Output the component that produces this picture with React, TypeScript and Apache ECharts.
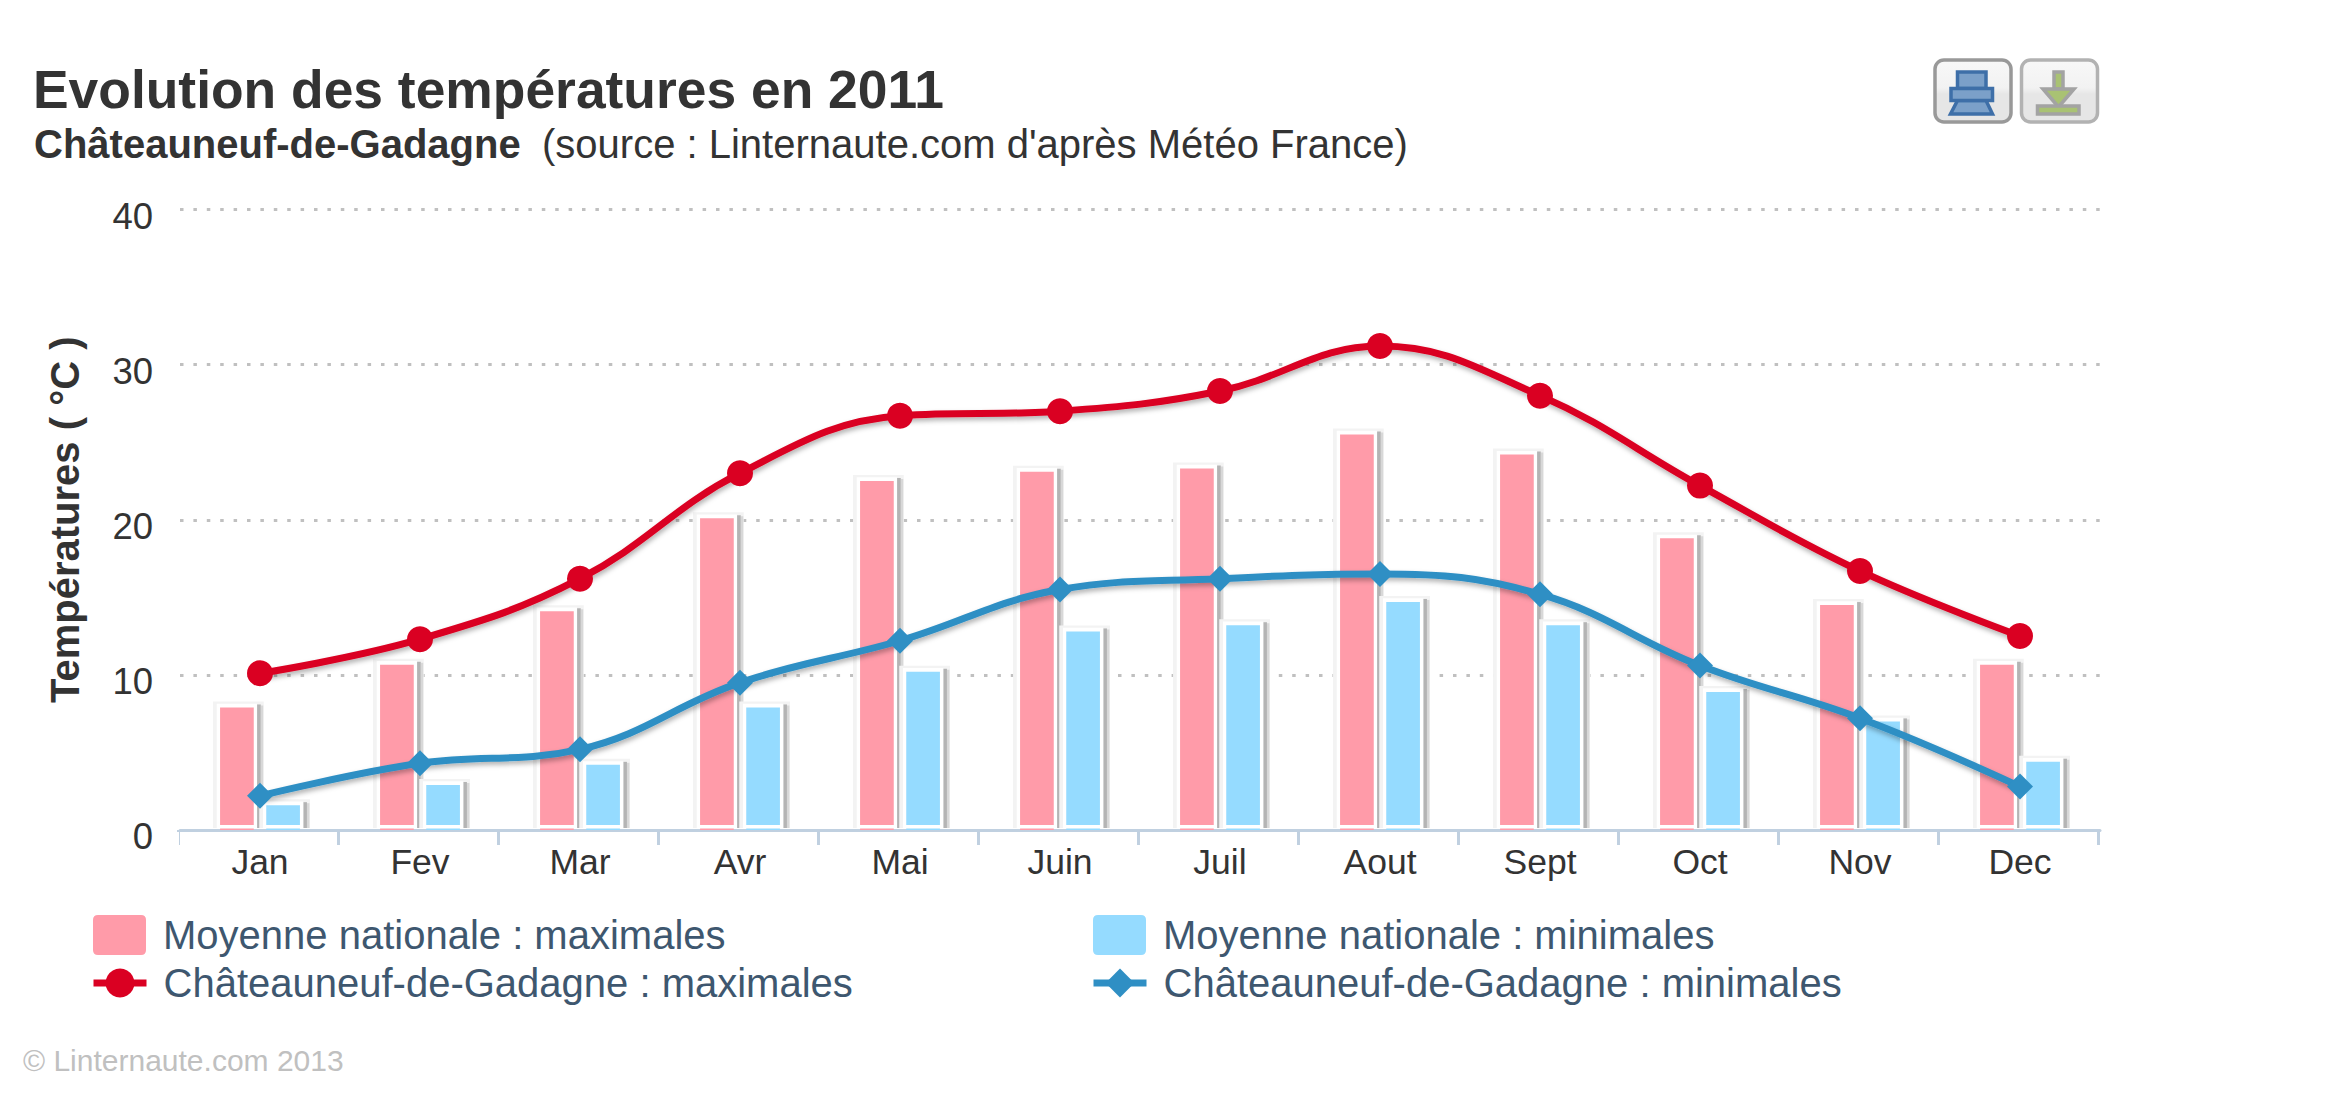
import React, { useEffect, useRef } from "react";
import * as echarts from "echarts";

const months = ["Jan", "Fev", "Mar", "Avr", "Mai", "Juin", "Juil", "Aout", "Sept", "Oct", "Nov", "Dec"];
const nationalMax = [7.9, 10.65, 14.1, 20.1, 22.5, 23.1, 23.3, 25.5, 24.2, 18.8, 14.5, 10.65];
const nationalMin = [1.6, 2.9, 4.2, 7.9, 10.2, 12.8, 13.2, 14.7, 13.2, 8.9, 7.0, 4.4];
const localMax = [10.1, 12.3, 16.2, 23.0, 26.7, 27.0, 28.3, 31.2, 28.0, 22.2, 16.7, 12.5];
const localMin = [2.2, 4.3, 5.2, 9.5, 12.2, 15.5, 16.2, 16.5, 15.2, 10.6, 7.2, 2.8];

const NAME_NAT_MAX = "Moyenne nationale : maximales";
const NAME_NAT_MIN = "Moyenne nationale : minimales";
const NAME_LOC_MAX = "Châteauneuf-de-Gadagne : maximales";
const NAME_LOC_MIN = "Châteauneuf-de-Gadagne : minimales";

const FONT = "Liberation Sans";
const BAR_W = 33.7;
const BAR_OFFSET = 23.1;
const SWATCH = "path://M5 0H48Q53 0 53 5V35Q53 40 48 40H5Q0 40 0 35V5Q0 0 5 0Z";

function decoBehind(sign: number) {
  return (_p: any, api: any) => {
    const top = api.coord([api.value(0), api.value(1)]);
    const base = api.coord([api.value(0), 0]);
    const x0 = top[0] + sign * BAR_OFFSET - BAR_W / 2;
    const x1 = x0 + BAR_W;
    const y = top[1];
    const b = base[1];
    const r = (x: number, yy: number, w: number, h: number, fill: string) => ({
      type: "rect",
      shape: { x, y: yy, width: w, height: h },
      style: { fill },
    });
    return {
      type: "group",
      children: [
        r(x0 - 7, y - 6, BAR_W + 17, b - y + 4, "#f3f3f3"),
        r(x1 + 7, y - 2, 2.5, b - y, "#d8d8d8"),
        r(x1 + 3.3, y - 3, 3.7, b - y + 1, "#b4b4b4"),
        r(x0 - 3.3, y - 3.7, BAR_W + 6.6, b - y + 1.7, "#ffffff"),
      ],
    };
  };
}

function decoFoot(sign: number) {
  return (_p: any, api: any) => {
    const top = api.coord([api.value(0), 0]);
    const x0 = top[0] + sign * BAR_OFFSET - BAR_W / 2;
    return {
      type: "rect",
      shape: { x: x0 - 0.5, y: top[1] - 5, width: BAR_W + 1, height: 3.5 },
      style: { fill: "#ffffff" },
    };
  };
}

function indexed(values: number[]) {
  return values.map((v, i) => [i, v]);
}

function legendAt(name: string, left: number, top: number, height: number, gap: number, icon?: string) {
  return {
    show: true,
    left,
    top,
    orient: "vertical" as const,
    data: [icon ? { name, icon } : name],
    itemWidth: 53,
    itemHeight: height,
    itemGap: 0,
    padding: 0,
    selectedMode: false,
    textStyle: { color: "#3E576F", fontSize: 40, fontFamily: FONT, padding: [0, 0, 0, gap] },
    lineStyle: { width: 7, shadowBlur: 0, shadowColor: "transparent", shadowOffsetX: 0, shadowOffsetY: 0 },
    itemStyle: { shadowBlur: 0, shadowColor: "transparent" },
  };
}

function makeButton(left: number, border: string, children: any[]) {
  return {
    type: "group",
    children: [
      {
        type: "rect",
        shape: { x: left, y: 60, width: 76, height: 62, r: 9 },
        style: {
          fill: new echarts.graphic.LinearGradient(0, 0, 0, 1, [
            { offset: 0, color: "#f8f8f8" },
            { offset: 0.45, color: "#f2f2f2" },
            { offset: 0.55, color: "#e6e6e6" },
            { offset: 1, color: "#e6e6e6" },
          ]),
          stroke: border,
          lineWidth: 3.5,
        },
      },
      ...children,
    ],
  };
}

export default function App() {
  const ref = useRef<HTMLDivElement>(null);
  useEffect(() => {
    const chart = echarts.init(ref.current!, undefined, { renderer: "svg" });
    const blueIcon = { fill: "#7BA0C9", stroke: "#3E6FA8", lineWidth: 3.5 };
    const greenIcon = { fill: "#A9C273", stroke: "#A3A3A3", lineWidth: 3.5 };
    chart.setOption({
      animation: false,
      backgroundColor: "#ffffff",
      textStyle: { fontFamily: FONT },
      title: [
        {
          text: "Evolution des températures en 2011",
          left: 33,
          top: 63,
          padding: 0,
          textStyle: { color: "#333333", fontSize: 53.4, fontWeight: "bold", fontFamily: FONT },
        },
        {
          text: "Châteauneuf-de-Gadagne",
          left: 34,
          top: 124,
          padding: 0,
          textStyle: { color: "#333333", fontSize: 40, fontWeight: "bold", fontFamily: FONT },
        },
        {
          text: "(source : Linternaute.com d'après Météo France)",
          left: 542,
          top: 124,
          padding: 0,
          textStyle: { color: "#333333", fontSize: 40, fontWeight: "normal", fontFamily: FONT },
        },
        {
          text: "© Linternaute.com 2013",
          left: 23,
          top: 1045,
          padding: 0,
          textStyle: { color: "#c0c0c0", fontSize: 30, fontWeight: "normal", fontFamily: FONT },
        },
      ],
      legend: [
        legendAt(NAME_NAT_MAX, 93, 915, 40, 12, SWATCH),
        legendAt(NAME_LOC_MAX, 90, 963, 36, 12),
        legendAt(NAME_NAT_MIN, 1093, 915, 40, 12, SWATCH),
        legendAt(NAME_LOC_MIN, 1090, 963, 36, 12),
      ],
      grid: [
        { left: 180, top: 209.5, width: 1920, height: 620.5 },
        { left: 178, top: 209.5, width: 1920, height: 620.5 },
      ],
      xAxis: [
        {
          type: "category",
          data: months,
          axisLine: { lineStyle: { color: "#C0D0E0", width: 3 } },
          axisTick: { show: false },
          axisLabel: { color: "#333333", fontSize: 35.5, margin: 14, fontFamily: FONT },
        },
        {
          type: "category",
          gridIndex: 1,
          data: months,
          axisLine: { show: false },
          axisLabel: { show: false },
          axisTick: {
            show: true,
            length: 15,
            lineStyle: { color: "#C0D0E0", width: 3 },
            interval: 0,
          },
        },
      ],
      yAxis: [
        {
          type: "value",
          min: 0,
          max: 40,
          interval: 10,
          name: "Températures ( °C )",
          nameLocation: "middle",
          nameGap: 95,
          nameRotate: 90,
          nameTextStyle: { color: "#333333", fontSize: 40, fontWeight: "bold", fontFamily: FONT },
          axisLine: { show: false },
          axisTick: { show: false },
          axisLabel: {
            color: "#333333",
            fontSize: 36.5,
            margin: 27,
            verticalAlign: "top",
            lineHeight: 13,
            fontFamily: FONT,
          },
          splitLine: { lineStyle: { color: "#c0c0c0", width: 3, type: [3.5, 9.9] } },
        },
        { type: "value", gridIndex: 1, min: 0, max: 40, interval: 10, show: false },
      ],
      series: [
        {
          type: "custom",
          name: "deco-max",
          z: 1,
          silent: true,
          renderItem: decoBehind(-1),
          encode: { x: 0, y: 1 },
          data: indexed(nationalMax),
        },
        {
          type: "custom",
          name: "deco-min",
          z: 1,
          silent: true,
          renderItem: decoBehind(1),
          encode: { x: 0, y: 1 },
          data: indexed(nationalMin),
        },
        {
          type: "bar",
          name: NAME_NAT_MAX,
          z: 2,
          barWidth: BAR_W,
          barGap: "37%",
          itemStyle: { color: "#FF9BA9", borderRadius: 0 },
          data: nationalMax,
        },
        {
          type: "bar",
          name: NAME_NAT_MIN,
          z: 2,
          barWidth: BAR_W,
          itemStyle: { color: "#95DBFF", borderRadius: 0 },
          data: nationalMin,
        },
        {
          type: "custom",
          name: "foot-max",
          z: 3,
          silent: true,
          renderItem: decoFoot(-1),
          encode: { x: 0, y: 1 },
          data: indexed(nationalMax),
        },
        {
          type: "custom",
          name: "foot-min",
          z: 3,
          silent: true,
          renderItem: decoFoot(1),
          encode: { x: 0, y: 1 },
          data: indexed(nationalMin),
        },
        {
          type: "line",
          name: NAME_LOC_MAX,
          z: 4,
          smooth: 0.4,
          symbol: "circle",
          symbolSize: 26,
          showAllSymbol: true,
          lineStyle: {
            color: "#DA0022",
            width: 7,
            shadowColor: "rgba(0,0,0,0.3)",
            shadowBlur: 5,
            shadowOffsetX: 1,
            shadowOffsetY: 3,
          },
          itemStyle: { color: "#DA0022" },
          data: localMax,
        },
        {
          type: "line",
          name: NAME_LOC_MIN,
          z: 4,
          smooth: 0.4,
          symbol: "diamond",
          symbolSize: 26,
          showAllSymbol: true,
          lineStyle: {
            color: "#2F8FC4",
            width: 7,
            shadowColor: "rgba(0,0,0,0.3)",
            shadowBlur: 5,
            shadowOffsetX: 1,
            shadowOffsetY: 3,
          },
          itemStyle: { color: "#2F8FC4" },
          data: localMin,
        },
      ],
      graphic: [
        // hides the stray first tick of the tick-only axis, left of where the reference's axis starts
        { type: "rect", shape: { x: 174, y: 832, width: 5, height: 16 }, style: { fill: "#ffffff" }, z: 10 },
        makeButton(1935, "#999999", [
          { type: "rect", shape: { x: 1957.5, y: 72, width: 28.5, height: 16.5 }, style: blueIcon },
          {
            type: "polygon",
            shape: { points: [[1957.5, 100.5], [1986, 100.5], [1992.5, 114], [1950.5, 114]] },
            style: blueIcon,
          },
          { type: "rect", shape: { x: 1951, y: 88.5, width: 41.5, height: 12 }, style: blueIcon },
        ]),
        makeButton(2021.5, "#b2b2b2", [
          { type: "rect", shape: { x: 2054, y: 72, width: 9, height: 17 }, style: greenIcon },
          {
            type: "polygon",
            shape: { points: [[2043, 89], [2074, 89], [2058.5, 107]] },
            style: greenIcon,
          },
          { type: "rect", shape: { x: 2037.5, y: 106, width: 41.5, height: 8 }, style: greenIcon },
        ]),
      ],
    });
    return () => chart.dispose();
  }, []);
  return (
    <div
      ref={ref}
      style={{ position: "absolute", left: 0, top: 0, width: 2329, height: 1113 }}
    />
  );
}
